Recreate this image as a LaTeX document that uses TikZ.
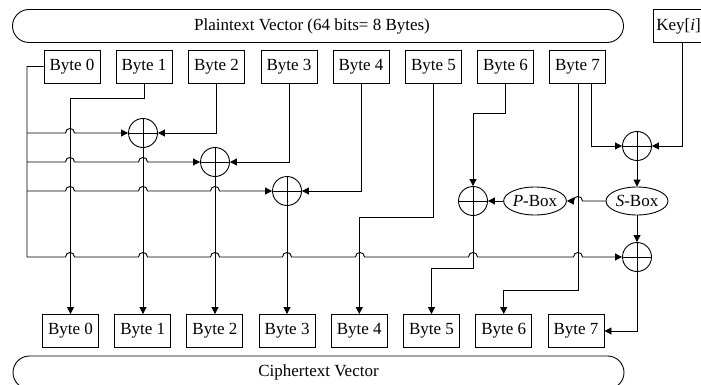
\documentclass[tikz,border=0pt]{standalone}
\usepackage{fontspec}
\setmainfont{Liberation Serif}
\usetikzlibrary{arrows.meta,shapes.misc,shapes.geometric}

\begin{document}
\begin{tikzpicture}[x=1pt,y=-1pt,
  every node/.style={font=\fontsize{17}{20}\selectfont},
  line/.style={line width=0.9pt},
  arr/.style={line, -{Triangle[length=7pt,width=7pt]}},
  bytebox/.style={draw, line width=0.9pt, minimum width=56pt, minimum height=33pt, inner sep=0pt},
  bar/.style={draw, line width=0.9pt, rounded rectangle, minimum width=611pt, minimum height=33pt, inner sep=0pt},
  xor/.style={circle, draw, line width=0.9pt, minimum size=29pt, inner sep=0pt,
    path picture={\draw[line width=0.9pt]
      (path picture bounding box.north) -- (path picture bounding box.south)
      (path picture bounding box.west) -- (path picture bounding box.east);}},
  oval/.style={ellipse, draw, line width=0.9pt, minimum height=28pt, inner sep=0pt}
]
\clip (0,0) rectangle (701,385);
\useasboundingbox (0,0) rectangle (701,385);

% plaintext bar and round key
\node[bar] (pt) at (318,26) {};
\node (ptlabel) at (312,26) {Plaintext Vector (64 bits= 8 Bytes)};
\node[draw, line width=0.9pt, minimum width=51pt, minimum height=33pt, inner sep=0pt] (key) at (678.5,26) {Key[\textit{i}]};

% input bytes
\node[bytebox] (t0) at (72,66.5) {Byte 0};
\node[bytebox] (t1) at (144,66.5) {Byte 1};
\node[bytebox] (t2) at (216.5,66.5) {Byte 2};
\node[bytebox] (t3) at (289,66.5) {Byte 3};
\node[bytebox] (t4) at (361,66.5) {Byte 4};
\node[bytebox] (t5) at (433.5,66.5) {Byte 5};
\node[bytebox] (t6) at (505.5,66.5) {Byte 6};
\node[bytebox] (t7) at (577.5,66.5) {Byte 7};

% output bytes
\node[bytebox] (b0) at (70.5,331) {Byte 0};
\node[bytebox] (b1) at (142.7,331) {Byte 1};
\node[bytebox] (b2) at (214.9,331) {Byte 2};
\node[bytebox] (b3) at (287.1,331) {Byte 3};
\node[bytebox] (b4) at (359.3,331) {Byte 4};
\node[bytebox] (b5) at (431.5,331) {Byte 5};
\node[bytebox] (b6) at (503.7,331) {Byte 6};
\node[bytebox] (b7) at (576,331) {Byte 7};

% ciphertext bar
\node[bar] (ct) at (318.5,372.5) {Ciphertext Vector};

% xor gates and boxes
\node[xor] (x1) at (143,133) {};
\node[xor] (x2) at (215,162) {};
\node[xor] (x3) at (287,191) {};
\node[xor] (x4) at (473,201) {};
\node[xor] (x5) at (637,146) {};
\node[xor] (x6) at (637,257) {};
\node[oval, minimum width=62pt] (sbox) at (637,201) {\textit{S}-Box};
\node[oval, minimum width=54pt] (pbox) at (535,201) {\textit{P}-Box};

% left rail fed by byte 0
\coordinate (rail) at (27,66.5);
\draw[arr] (t0.west) -- (rail) -- (rail |- x6)
  foreach \h in {70,143,215,287,360,473,578} {
    -- ({\h-4.5},257) .. controls ({\h-4.5},251) and ({\h+4.5},251) .. ({\h+4.5},257) }
  -- (x6.west);
\draw[arr] (rail |- x1)
  foreach \h in {70} {
    -- ({\h-4.5},133) .. controls ({\h-4.5},127) and ({\h+4.5},127) .. ({\h+4.5},133) }
  -- (x1.west);
\draw[arr] (rail |- x2)
  foreach \h in {70,143} {
    -- ({\h-4.5},162) .. controls ({\h-4.5},156) and ({\h+4.5},156) .. ({\h+4.5},162) }
  -- (x2.west);
\draw[arr] (rail |- x3)
  foreach \h in {70,143,215} {
    -- ({\h-4.5},191) .. controls ({\h-4.5},185) and ({\h+4.5},185) .. ({\h+4.5},191) }
  -- (x3.west);

% byte routing
\draw[arr] (t1.south) -- ++(0,15) -| (b0.north);
\draw[arr] (t2.south) |- (x1.east);
\draw[arr] (x1.south) -- (x1.south |- b1.north);
\draw[arr] (t3.south) |- (x2.east);
\draw[arr] (x2.south) -- (x2.south |- b2.north);
\draw[arr] (t4.south) |- (x3.east);
\draw[arr] (x3.south) -- (x3.south |- b3.north);
\draw[arr] (t5.south) -- ++(0,134) -| (b4.north);
\draw[arr] (t6.south) -- ++(0,30) -| (x4.north);
\draw[arr] (x4.south) -- ++(0,52.5) -| (b5.north);
\draw[arr] ([xshift=0.5pt]t7.south) -- ++(0,207) -| (b6.north);
\draw[arr] ([xshift=13.5pt]t7.south) |- (x5.west);
\draw[arr] ([xshift=3.5pt]key.south) |- (x5.east);

% round function
\draw[arr] (x5.south) -- (sbox.north);
\draw[arr] (sbox.south) -- (x6.north);
\draw[arr] (sbox.west) -- (582.5,201) .. controls (582.5,195) and (573.5,195) .. (573.5,201) -- (pbox.east);
\draw[arr] (pbox.west) -- (x4.east);
\draw[arr] (x6.south) |- (b7.east);
\end{tikzpicture}
\end{document}
